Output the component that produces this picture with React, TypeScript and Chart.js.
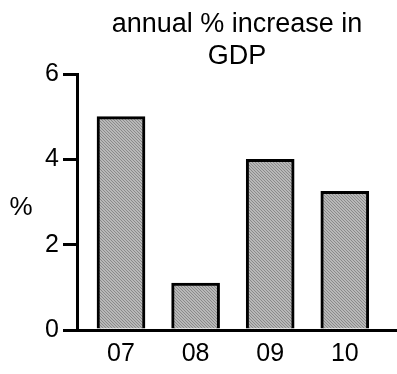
import React, { useEffect, useRef } from "react";
import { Chart, registerables } from "chart.js";
Chart.register(...registerables);

const TITLE_LINES = ["annual % increase in", "GDP"];
const Y_LABEL = "%";
const YEARS = ["07", "08", "09", "10"];
const GDP_GROWTH = [5.0, 1.1, 4.0, 3.25];
const Y_TICKS = [0, 2, 4, 6];

const FONT = '"Liberation Sans", Arial, sans-serif';

function makeTexture(): CanvasPattern | string {
  const c = document.createElement("canvas");
  c.width = 6;
  c.height = 6;
  const g = c.getContext("2d");
  if (!g) return "#a2a2a2";
  g.fillStyle = "#b8b8b8";
  g.fillRect(0, 0, 6, 6);
  g.fillStyle = "#8a8a8a";
  for (let x = 0; x < 6; x++) {
    for (let y = 0; y < 6; y++) {
      if ((x - y + 6) % 3 === 0) g.fillRect(x, y, 1, 1);
    }
  }
  return g.createPattern(c, "repeat") || "#a2a2a2";
}

export default function App() {
  const ref = useRef<HTMLCanvasElement>(null);
  useEffect(() => {
    const canvas = ref.current!;
    const textPlugin = {
      id: "texts",
      afterDraw(chart: any) {
        const { ctx, chartArea } = chart;
        ctx.save();
        ctx.fillStyle = "#000";
        ctx.textAlign = "center";
        ctx.textBaseline = "middle";
        ctx.font = `27px ${FONT}`;
        const cx = (chartArea.left + chartArea.right) / 2;
        TITLE_LINES.forEach((t, i) => ctx.fillText(t, cx, 25 + i * 32));
        ctx.font = `26px ${FONT}`;
        ctx.fillText(Y_LABEL, 21, 208);
        ctx.restore();
      },
    };
    const chart = new Chart(canvas, {
      type: "bar",
      data: {
        datasets: [
          {
            data: GDP_GROWTH.map((v, i) => ({ x: i, y: v })),
            backgroundColor: makeTexture() as any,
            borderColor: "#000",
            borderWidth: 3,
            barThickness: 48,
          },
        ],
      },
      options: {
        responsive: false,
        animation: false,
        layout: { padding: { top: 74, left: 0, right: 0, bottom: 0 } },
        plugins: { legend: { display: false }, tooltip: { enabled: false }, title: { display: false } },
        scales: {
          x: {
            type: "linear",
            offset: false,
            min: -0.59,
            max: 3.7,
            afterBuildTicks: (s: any) => {
              s.ticks = YEARS.map((_, i) => ({ value: i }));
            },
            afterFit: (s: any) => {
              s.height = 44;
            },
            ticks: {
              callback: (v: any) => YEARS[v] ?? "",
              color: "#000",
              font: { family: FONT, size: 25 },
              padding: 9,
              maxRotation: 0,
              autoSkip: false,
            },
            grid: { display: true, offset: false, drawOnChartArea: false, drawTicks: false },
            border: { color: "#000", width: 3 },
          },
          y: {
            min: 0,
            max: 6,
            afterBuildTicks: (s: any) => {
              s.ticks = Y_TICKS.map((v) => ({ value: v }));
            },
            afterFit: (s: any) => {
              s.width = 77;
            },
            ticks: {
              color: "#000",
              font: { family: FONT, size: 25 },
              padding: 4,
            },
            grid: { display: true, drawOnChartArea: false, drawTicks: true, tickLength: 14, color: "#000", lineWidth: 3 },
            border: { color: "#000", width: 3 },
          },
        },
      },
      plugins: [textPlugin],
    });
    return () => chart.destroy();
  }, []);
  return (
    <canvas
      ref={ref}
      width={397}
      height={374}
      style={{ position: "fixed", left: 0, top: 0, display: "block", background: "#fff" }}
    />
  );
}
